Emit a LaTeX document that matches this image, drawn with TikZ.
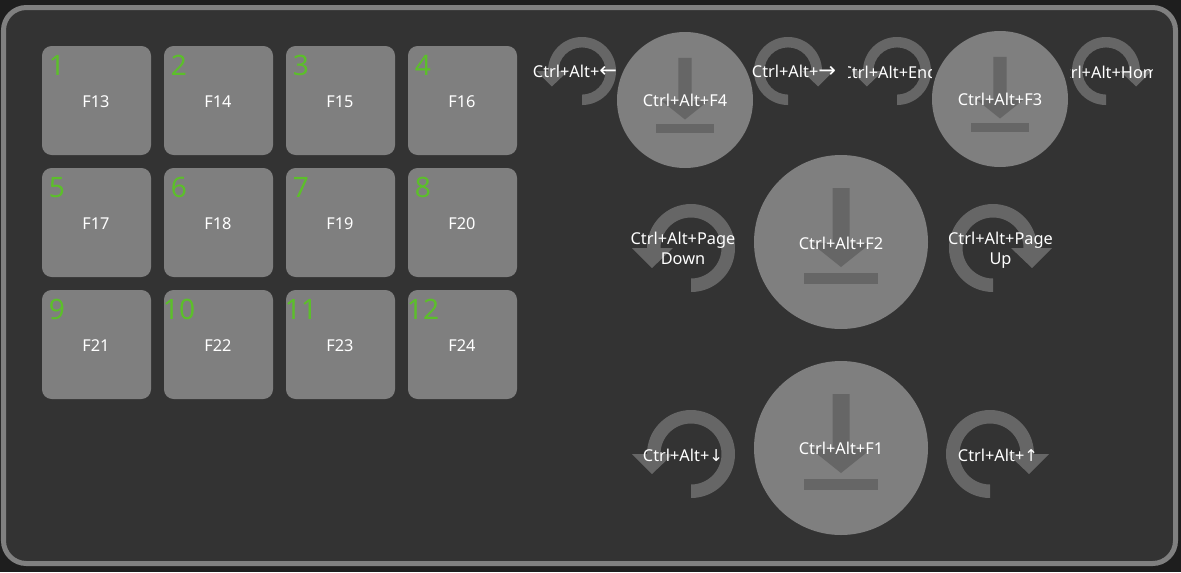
\documentclass[tikz,border=0pt]{standalone}
\usepackage{fontspec}
\setmainfont{Noto Sans}
\newfontfamily\arrowfont{DejaVu Sans}
\definecolor{outerdark}{HTML}{1E1E1E}
\definecolor{paneldark}{HTML}{333333}
\definecolor{framegray}{HTML}{808080}
\definecolor{keygray}{HTML}{7F7F7F}
\definecolor{icongray}{HTML}{666666}
\definecolor{digitgreen}{HTML}{5CBF2A}
\tikzset{
  keybox/.style={fill=keygray, rounded corners=5.5pt, minimum size=109*0.02cm, inner sep=0pt},
  roundbtn/.style={circle, fill=keygray, inner sep=0pt},
  keytext/.style={text=white, font=\fontsize{9.3pt}{11.3pt}\selectfont, align=center, inner sep=0pt},
  digittext/.style={text=digitgreen, font=\fontsize{16pt}{16pt}\selectfont, inner sep=0pt, anchor=base},
}

\begin{document}
\begin{tikzpicture}[x=0.02cm, y=-0.02cm, line cap=butt, line join=miter]

% \spinarrow{x}{y}{scale}{direction}
\newcommand{\spinarrow}[4]{%
  \begin{scope}[shift={(#1,#2)}, xscale=#4, scale=#3]
    \fill[icongray] (0,44) arc[start angle=90, end angle=-180, radius=44]
      -- (-59,0) -- (-39,20) -- (-18,0) -- (-30.5,0)
      arc[start angle=-180, end angle=90, radius=30.5] -- cycle;
  \end{scope}%
}
% \saveicon{x}{y}{scale}
\newcommand{\saveicon}[3]{%
  \begin{scope}[shift={(#1,#2)}, scale=#3]
    \fill[icongray] (-8.5,-54) -- (8.5,-54) -- (8.5,1) -- (30,1) -- (0,25)
      -- (-30,1) -- (-8.5,1) -- cycle;
    \fill[icongray] (-37,31) rectangle (37,42);
  \end{scope}%
}
% \cutlabel{name}{x}{y}{half width}{text}
\newcommand{\cutlabel}[5]{%
  \begin{scope}
    \clip (#2-#4,#3-20) rectangle (#2+#4,#3+20);
    \node[keytext] (#1) at (#2,#3) {#5};
  \end{scope}%
}

\useasboundingbox (0,0) rectangle (1181,572);
\fill[outerdark] (0,0) rectangle (1181,572);
\draw[framegray, fill=paneldark, line width=5*0.02cm, rounded corners=13pt]
  (3.5,7.5) rectangle (1175.5,563.5);

% key grid
\foreach \row in {0,1,2}{
  \foreach \col in {0,1,2,3}{
    \pgfmathtruncatemacro{\num}{\row*4+\col+1}
    \pgfmathtruncatemacro{\fkey}{\num+12}
    \pgfmathsetmacro{\keyx}{96.5+122*\col}
    \pgfmathsetmacro{\keyy}{100.5+122*\row}
    \node[keybox] (key\num) at (\keyx,\keyy) {};
    \node[digittext] (digit\num) at (\keyx-39.5,\keyy-25) {\num};
    \node[keytext] (label\num) at (\keyx-0.5,\keyy+1) {F\fkey};
  }
}

% top row
\spinarrow{582}{71}{0.773}{1}
\spinarrow{788}{71}{0.773}{-1}
\spinarrow{897}{71}{0.773}{1}
\spinarrow{1106}{71}{0.773}{-1}
\node[roundbtn, minimum size=136*0.02cm] (btnfour) at (685,100) {};
\saveicon{685}{100}{0.78}
\node[roundbtn, minimum size=136*0.02cm] (btnthree) at (1000,99) {};
\saveicon{1000}{99}{0.78}
\cutlabel{leftlabel}{575}{71}{41.5}{Ctrl+Alt+{\arrowfont\fontsize{12pt}{12pt}\selectfont ←}}
\cutlabel{rightlabel}{794}{71}{41.5}{Ctrl+Alt+{\arrowfont\fontsize{12pt}{12pt}\selectfont →}}
\cutlabel{endlabel}{889.5}{72}{41.5}{Ctrl+Alt+End}
\cutlabel{homelabel}{1111}{72}{41}{Ctrl+Alt+Home}
\node[keytext] (labelfour) at (685,100.5) {Ctrl+Alt+F4};
\node[keytext] (labelthree) at (1000,99.5) {Ctrl+Alt+F3};

% middle row
\spinarrow{691}{248}{1}{1}
\spinarrow{993}{248}{1}{-1}
\node[roundbtn, minimum size=174*0.02cm] (btntwo) at (841,242) {};
\saveicon{841}{242}{1}
\node[keytext] (labeltwo) at (841,243) {Ctrl+Alt+F2};
\node[keytext] (pagedown) at (683,248.5) {Ctrl+Alt+Page\\Down};
\node[keytext] (pageup) at (1000.5,250.5) {Ctrl+Alt+Page\\Up};

% bottom row
\spinarrow{691}{454}{1}{1}
\spinarrow{990}{454}{1}{-1}
\node[roundbtn, minimum size=174*0.02cm] (btnone) at (841,448) {};
\saveicon{841}{448}{1}
\node[keytext] (labelone) at (841,448.5) {Ctrl+Alt+F1};
\node[keytext] (downlabel) at (683,455) {Ctrl+Alt+{\arrowfont ↓}};
\node[keytext] (uplabel) at (998,455) {Ctrl+Alt+{\arrowfont ↑}};

\end{tikzpicture}
\end{document}
